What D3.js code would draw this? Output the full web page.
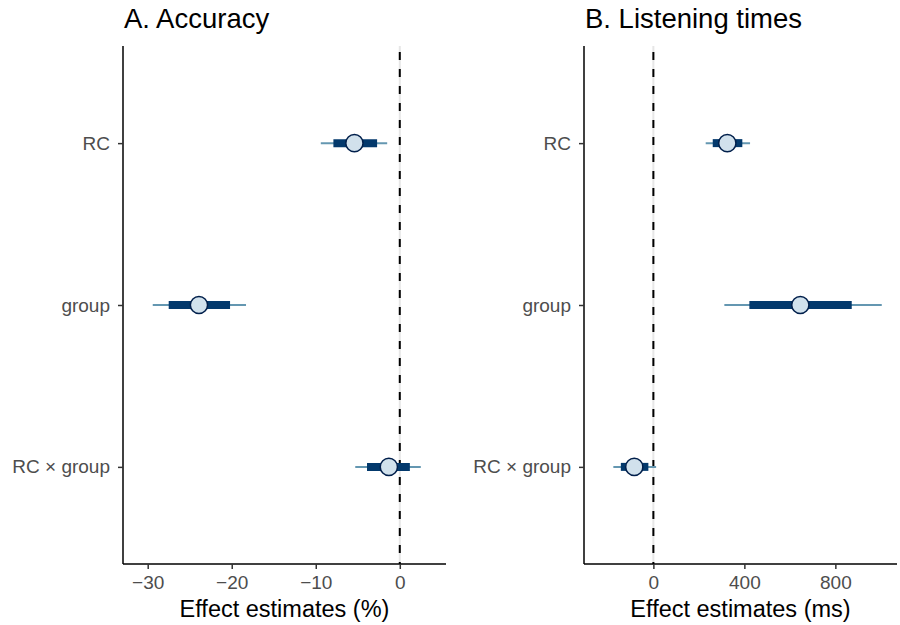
<!DOCTYPE html>
<html>
<head>
<meta charset="utf-8">
<script src="https://cdn.jsdelivr.net/npm/d3@7"></script>
<style>
  body { margin: 0; background: #fff; }
  svg { font-family: "Liberation Sans", Arial, sans-serif; }
</style>
</head>
<body>
<div id="chart"></div>
<script>
// parameters, top to bottom
var params = ["RC", "group", "RC × group"];

// A. Accuracy (%)
var accPoint   = [-5.4, -23.9, -1.3];
var accInnerLo = [-7.9, -27.5, -3.9];
var accInnerHi = [-2.7, -20.2, 1.2];
var accOuterLo = [-9.4, -29.4, -5.3];
var accOuterHi = [-1.5, -18.3, 2.5];
var accTicks   = [-30, -20, -10, 0];

// B. Listening times (ms)
var ltPoint   = [325, 646, -84];
var ltInnerLo = [261, 422, -143];
var ltInnerHi = [391, 872, -22];
var ltOuterLo = [230, 312, -176];
var ltOuterHi = [425, 1004, 12];
var ltTicks   = [0, 400, 800];

var width = 900, height = 625,
    plotTop = 46, plotBottom = 564;

var svg = d3.select("#chart")
  .append("svg")
  .attr("width", width)
  .attr("height", height);

var y = d3.scalePoint()
  .domain(params)
  .range([plotTop, plotBottom])
  .padding(0.6);

function panel(opt) {
  var x = d3.scaleLinear().domain(opt.domain).range([opt.x0, opt.x1]);
  var g = svg.append("g");

  var rows = params.map(function(p, i) {
    return {name: p, pt: opt.pt[i], ilo: opt.ilo[i], ihi: opt.ihi[i], olo: opt.olo[i], ohi: opt.ohi[i]};
  });

  // reference line at zero
  g.append("line")
    .attr("x1", x(0)).attr("x2", x(0))
    .attr("y1", plotTop).attr("y2", plotBottom)
    .attr("stroke", "#e6e6e6")
    .attr("stroke-width", 2);
  g.append("line")
    .attr("x1", x(0)).attr("x2", x(0))
    .attr("y1", plotTop).attr("y2", plotBottom)
    .attr("stroke", "#000")
    .attr("stroke-width", 2)
    .attr("stroke-dasharray", "8,9")
    .attr("stroke-dashoffset", 11);

  var row = g.selectAll("g.row")
    .data(rows)
    .enter()
    .append("g")
    .attr("class", "row");

  row.append("line")
    .attr("x1", function(d) { return x(d.olo); })
    .attr("x2", function(d) { return x(d.ohi); })
    .attr("y1", function(d) { return y(d.name); })
    .attr("y2", function(d) { return y(d.name); })
    .attr("stroke", "#6497b1")
    .attr("stroke-width", 2);

  row.append("line")
    .attr("x1", function(d) { return x(d.ilo); })
    .attr("x2", function(d) { return x(d.ihi); })
    .attr("y1", function(d) { return y(d.name); })
    .attr("y2", function(d) { return y(d.name); })
    .attr("stroke", "#03396c")
    .attr("stroke-width", 8);

  row.append("circle")
    .attr("cx", function(d) { return x(d.pt); })
    .attr("cy", function(d) { return y(d.name); })
    .attr("r", 8.6)
    .attr("fill", "#d1e1ec")
    .attr("stroke", "#011f4b")
    .attr("stroke-width", 1.5);

  // axes
  var xa = g.append("g")
    .attr("transform", "translate(0," + plotBottom + ")")
    .call(d3.axisBottom(x).tickValues(opt.ticks).tickSize(5).tickSizeOuter(0).tickPadding(7));
  var ya = g.append("g")
    .attr("transform", "translate(" + opt.x0 + ",0)")
    .call(d3.axisLeft(y).tickSize(5).tickSizeOuter(0).tickPadding(8));

  [xa, ya].forEach(function(a) {
    a.select(".domain").attr("stroke", "#000").attr("stroke-width", 1.5)
      .attr("d", a === xa ? "M" + opt.x0 + ",0H" + opt.x1 : "M0," + plotTop + "V" + plotBottom);
    a.selectAll(".tick line").attr("stroke", "#333").attr("stroke-width", 1.5);
    a.selectAll(".tick text")
      .attr("fill", "#4d4d4d")
      .style("font-size", "19px");
  });

  g.append("text")
    .attr("x", opt.x0 + 1)
    .attr("y", 28)
    .style("font-size", "27.5px")
    .attr("fill", "#000")
    .text(opt.title);

  g.append("text")
    .attr("x", (opt.x0 + opt.x1) / 2)
    .attr("y", 617)
    .attr("text-anchor", "middle")
    .style("font-size", "23.5px")
    .attr("fill", "#000")
    .text(opt.xlab);
}

panel({
  title: "A. Accuracy", xlab: "Effect estimates (%)",
  x0: 123, x1: 446, domain: [-32.94, 5.5],
  pt: accPoint, ilo: accInnerLo, ihi: accInnerHi, olo: accOuterLo, ohi: accOuterHi,
  ticks: accTicks
});

panel({
  title: "B. Listening times", xlab: "Effect estimates (ms)",
  x0: 584, x1: 897, domain: [-305, 1071],
  pt: ltPoint, ilo: ltInnerLo, ihi: ltInnerHi, olo: ltOuterLo, ohi: ltOuterHi,
  ticks: ltTicks
});
</script>
</body>
</html>
